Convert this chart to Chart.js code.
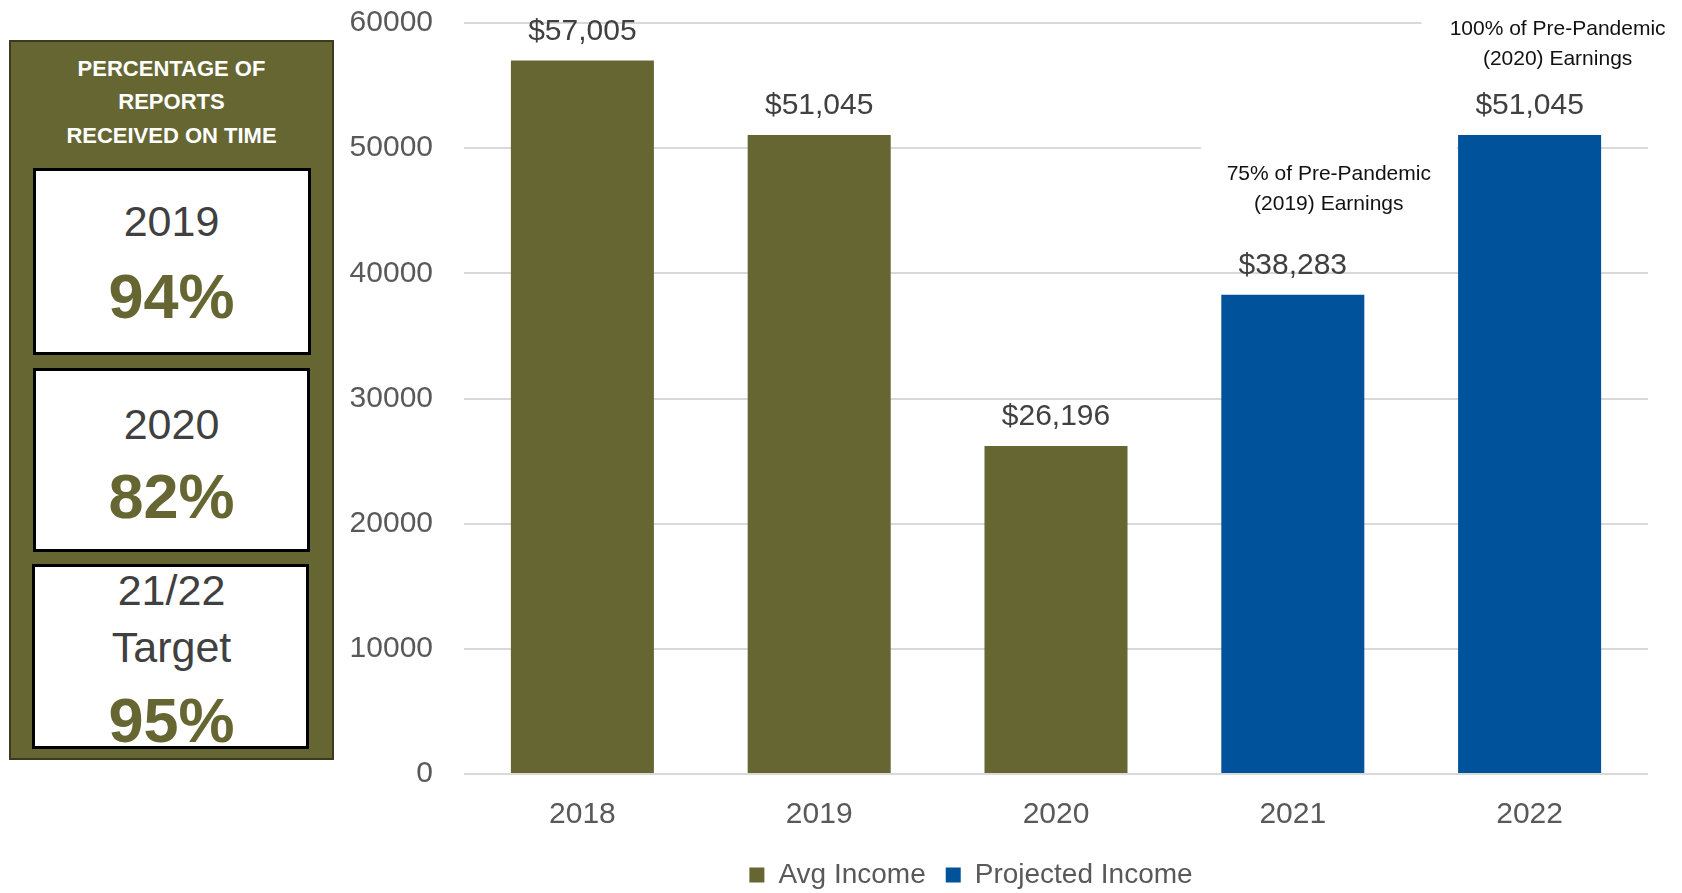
<!DOCTYPE html>
<html>
<head>
  <meta charset="utf-8">
  <title>Average Income</title>
  <script src="https://cdn.jsdelivr.net/npm/chart.js"></script>
  <style>
    body { margin: 0; padding: 0; overflow: hidden; background: #fff; font-family: 'Liberation Sans', Arial, sans-serif; }
    #wrap { position: absolute; left: 0; top: 0; }
    #panel {
      position: absolute; left: 9px; top: 40px; width: 325px; height: 720px;
      box-sizing: border-box; background: #666633; border: 2px solid #3b3b1e;
    }
    .box { position: absolute; box-sizing: border-box; background: #fff; border: 3px solid #000; }
    .line { position: absolute; left: 9px; width: 325px; text-align: center; line-height: 1; white-space: nowrap; }
    .head { color: #fff; font-weight: bold; font-size: 22px; }
    .year { color: #404040; font-size: 43px; }
    .pct { color: #666633; font-weight: bold; font-size: 63px; }
  </style>
</head>
<body>
  <div id="wrap"><canvas id="incomeChart" width="1682" height="899"></canvas></div>

  <!-- Reports on time panel -->
  <div id="panel"></div>
  <div class="box" style="left:33px; top:168px; width:278px; height:187px;"></div>
  <div class="box" style="left:33px; top:368px; width:277px; height:184px;"></div>
  <div class="box" style="left:32px; top:564px; width:277px; height:185px;"></div>

  <div class="line head" style="top:58px;">PERCENTAGE OF</div>
  <div class="line head" style="top:91px;">REPORTS</div>
  <div class="line head" style="top:125px;">RECEIVED ON TIME</div>

  <div class="line year" style="top:200px;">2019</div>
  <div class="line pct" style="top:265px;">94%</div>
  <div class="line year" style="top:403px;">2020</div>
  <div class="line pct" style="top:465px;">82%</div>
  <div class="line year" style="top:569px;">21/22</div>
  <div class="line year" style="top:626px;">Target</div>
  <div class="line pct" style="top:689px;">95%</div>

  <script>
    const years = ['2018', '2019', '2020', '2021', '2022'];
    const avgIncome = [57005, 51045, 26196, null, null];
    const projectedIncome = [null, null, null, 38283, 51045];
    const notes = [null, null, null,
      ['75% of Pre-Pandemic', '(2019) Earnings'],
      ['100% of Pre-Pandemic', '(2020) Earnings']];

    const OLIVE = '#666633';
    const BLUE = '#00529b';
    const FONT = "'Liberation Sans', Arial, sans-serif";

    // "$57,005" style labels above each bar
    const valueLabels = {
      id: 'valueLabels',
      afterDatasetsDraw(chart) {
        const ctx = chart.ctx;
        ctx.save();
        ctx.font = '30px ' + FONT;
        ctx.fillStyle = '#404040';
        ctx.textAlign = 'center';
        ctx.textBaseline = 'middle';
        chart.data.datasets.forEach((ds, di) => {
          chart.getDatasetMeta(di).data.forEach((bar, i) => {
            const v = ds.data[i];
            if (v == null) return;
            ctx.fillText('$' + v.toLocaleString('en-US'), bar.x, bar.y - 29);
          });
        });
        ctx.restore();
      }
    };

    // notes over the projected bars, on a white backing that hides the grid
    const noteSpots = {
      3: { dx: 36, dy: -121, box: [-92, -34, 256, 75] },
      4: { dx: 28, dy: -106, box: [-108, -26, 270, 70] }
    };
    function noteAnchor(chart, i) {
      const bar = chart.getDatasetMeta(1).data[i];
      return { x: bar.x, y: bar.y };
    }
    const notesPlugin = {
      id: 'notes',
      beforeDatasetsDraw(chart) {
        const ctx = chart.ctx;
        ctx.save();
        ctx.fillStyle = '#fff';
        notes.forEach((n, i) => {
          if (!n) return;
          const s = noteSpots[i];
          const a = noteAnchor(chart, i);
          ctx.fillRect(a.x + s.box[0], a.y + s.dy + s.box[1], s.box[2], s.box[3]);
        });
        ctx.restore();
      },
      afterDatasetsDraw(chart) {
        const ctx = chart.ctx;
        ctx.save();
        ctx.font = '21px ' + FONT;
        ctx.fillStyle = '#111';
        ctx.textAlign = 'center';
        ctx.textBaseline = 'middle';
        notes.forEach((n, i) => {
          if (!n) return;
          const s = noteSpots[i];
          const a = noteAnchor(chart, i);
          n.forEach((t, k) => ctx.fillText(t, a.x + s.dx, a.y + s.dy + k * 30));
        });
        ctx.restore();
      }
    };

    new Chart(document.getElementById('incomeChart'), {
      type: 'bar',
      data: {
        labels: years,
        datasets: [
          { label: 'Avg Income', data: avgIncome, backgroundColor: OLIVE },
          { label: 'Projected Income', data: projectedIncome, backgroundColor: BLUE }
        ]
      },
      options: {
        responsive: false,
        animation: false,
        grouped: false,
        barPercentage: 0.604,
        categoryPercentage: 1,
        layout: { padding: { left: 294, right: 34, top: 23, bottom: 0 } },
        scales: {
          x: {
            grid: { display: false },
            border: { display: false },
            ticks: { color: '#595959', font: { family: FONT, size: 30 }, padding: 15 },
            afterFit(scale) { scale.height = 67; }
          },
          y: {
            min: 0,
            max: 60000,
            ticks: { stepSize: 10000, color: '#595959', font: { family: FONT, size: 30 }, padding: 31, callback: v => String(v) },
            grid: { color: '#d9d9d9', lineWidth: 2, drawTicks: false },
            border: { display: false },
            afterFit(scale) { scale.width = 170; scale.paddingTop = 0; scale.paddingBottom = 0; }
          }
        },
        plugins: {
          legend: {
            position: 'bottom',
            labels: { boxWidth: 15, boxHeight: 15, padding: 20, color: '#595959', font: { family: FONT, size: 28 } }
          },
          tooltip: { enabled: false }
        }
      },
      plugins: [notesPlugin, valueLabels]
    });
  </script>
</body>
</html>
